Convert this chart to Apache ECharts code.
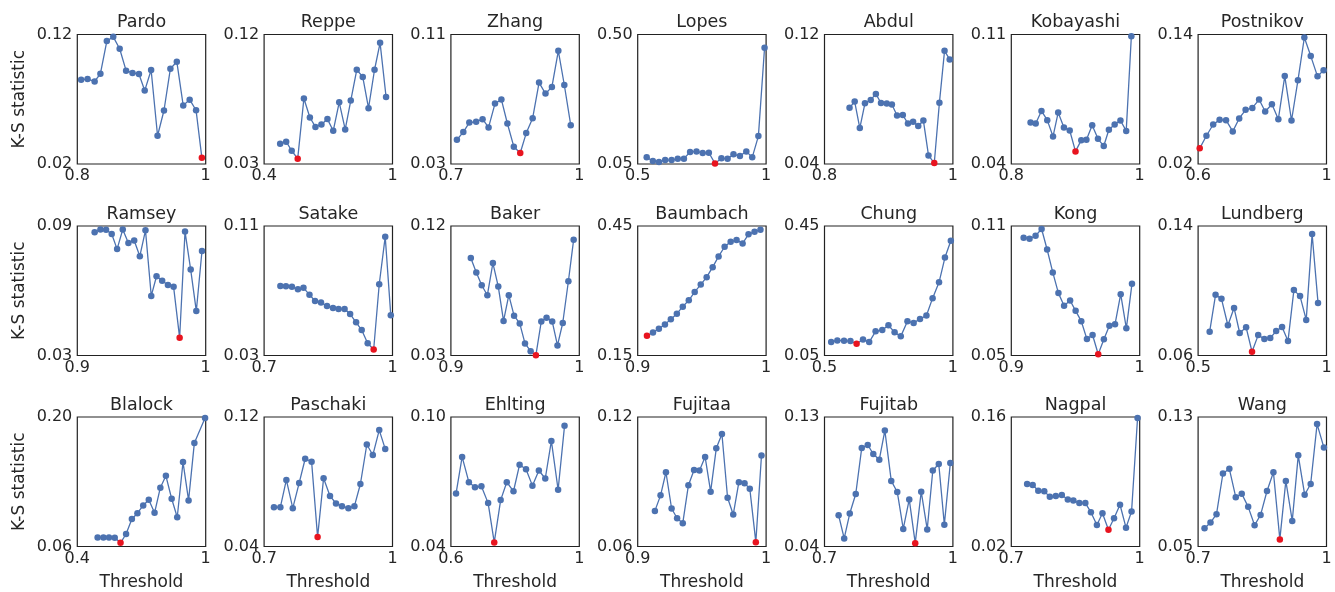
<!DOCTYPE html>
<html>
<head>
<meta charset="utf-8">
<script src="https://cdn.jsdelivr.net/npm/echarts@6/dist/echarts.min.js"></script>
<style>html,body{margin:0;padding:0;background:#fff}#c{width:1335px;height:592px}</style>
</head>
<body>
<div id="c"></div>
<script>
const names = ['Pardo','Reppe','Zhang','Lopes','Abdul','Kobayashi','Postnikov',
  'Ramsey','Satake','Baker','Baumbach','Chung','Kong','Lundberg',
  'Blalock','Paschaki','Ehlting','Fujitaa','Fujitab','Nagpal','Wang'];
const xMins = [0.8,0.4,0.7,0.5,0.8,0.8,0.6, 0.9,0.7,0.9,0.9,0.5,0.9,0.5, 0.4,0.7,0.6,0.9,0.7,0.7,0.7];
const xMaxs = [1,1,1,1,1,1,1, 1,1,1,1,1,1,1, 1,1,1,1,1,1,1];
const yMins = [0.02,0.03,0.03,0.05,0.04,0.04,0.02, 0.03,0.03,0.03,0.15,0.05,0.05,0.06, 0.06,0.04,0.04,0.06,0.04,0.02,0.05];
const yMaxs = [0.12,0.12,0.11,0.50,0.12,0.11,0.14, 0.09,0.11,0.12,0.45,0.45,0.11,0.14, 0.20,0.12,0.10,0.12,0.13,0.16,0.13];

const pardoX = [0.806,0.816,0.827,0.836,0.846,0.856,0.866,0.876,0.886,0.896,0.905,0.915,0.925,0.935,0.945,0.955,0.965,0.975,0.985,0.994];
const pardoY = [0.0851,0.0856,0.0838,0.0897,0.1149,0.1182,0.1090,0.0921,0.0903,0.0895,0.0767,0.0926,0.0418,0.0613,0.0936,0.0990,0.0651,0.0697,0.0615,0.0249];
const reppeX = [0.475,0.503,0.529,0.557,0.586,0.614,0.640,0.668,0.696,0.723,0.751,0.779,0.805,0.833,0.861,0.888,0.916,0.942,0.970];
const reppeY = [0.0441,0.0455,0.0392,0.0337,0.0755,0.0623,0.0558,0.0575,0.0612,0.0531,0.0729,0.0540,0.0741,0.0955,0.0905,0.0688,0.0955,0.1142,0.0766];
const zhangX = [0.714,0.729,0.743,0.759,0.774,0.788,0.803,0.818,0.832,0.847,0.862,0.876,0.891,0.906,0.921,0.936,0.951,0.965,0.980];
const zhangY = [0.0450,0.0497,0.0556,0.0561,0.0577,0.0526,0.0673,0.0698,0.0550,0.0407,0.0368,0.0491,0.0583,0.0803,0.0735,0.0776,0.0999,0.0788,0.0540];
const lopesX = [0.535,0.559,0.583,0.607,0.632,0.656,0.680,0.704,0.729,0.753,0.777,0.801,0.826,0.850,0.873,0.898,0.923,0.946,0.970,0.994];
const lopesY = [0.0731,0.0604,0.0570,0.0638,0.0638,0.0685,0.0685,0.0915,0.0938,0.0881,0.0892,0.0520,0.0696,0.0685,0.0835,0.0777,0.0938,0.0731,0.1469,0.4538];
const abdulX = [0.839,0.847,0.855,0.863,0.872,0.880,0.888,0.897,0.905,0.913,0.922,0.930,0.938,0.946,0.954,0.962,0.971,0.979,0.987,0.995];
const abdulY = [0.0747,0.0786,0.0622,0.0775,0.0796,0.0833,0.0777,0.0773,0.0767,0.0700,0.0702,0.0650,0.0661,0.0634,0.0669,0.0453,0.0406,0.0779,0.1099,0.1046];
const kobayashiX = [0.830,0.838,0.847,0.856,0.865,0.873,0.882,0.891,0.900,0.909,0.917,0.926,0.935,0.944,0.952,0.961,0.970,0.979,0.987];
const kobayashiY = [0.0624,0.0619,0.0687,0.0637,0.0549,0.0678,0.0597,0.0581,0.0468,0.0529,0.0531,0.0610,0.0536,0.0497,0.0585,0.0614,0.0635,0.0579,0.1091];
const postnikovX = [0.605,0.626,0.647,0.667,0.687,0.708,0.728,0.748,0.769,0.790,0.809,0.830,0.850,0.870,0.891,0.911,0.931,0.951,0.972,0.991];
const postnikovY = [0.0345,0.0462,0.0566,0.0609,0.0606,0.0502,0.0622,0.0702,0.0720,0.0797,0.0686,0.0754,0.0615,0.1015,0.0603,0.0975,0.1372,0.1200,0.1012,0.1068];
const ramseyX = [0.9135,0.9180,0.9224,0.9268,0.9310,0.9354,0.9398,0.9443,0.9487,0.9531,0.9576,0.9617,0.9661,0.9706,0.9750,0.9797,0.9839,0.9883,0.9927,0.9971];
const ramseyY = [0.0871,0.0884,0.0883,0.0863,0.0793,0.0884,0.0821,0.0833,0.0760,0.0880,0.0576,0.0667,0.0646,0.0627,0.0618,0.0382,0.0874,0.0698,0.0506,0.0784];
const satakeX = [0.738,0.751,0.765,0.779,0.792,0.806,0.819,0.833,0.847,0.861,0.874,0.888,0.901,0.915,0.928,0.942,0.956,0.969,0.983,0.996];
const satakeY = [0.0730,0.0728,0.0724,0.0709,0.0718,0.0676,0.0637,0.0627,0.0606,0.0594,0.0587,0.0587,0.0556,0.0505,0.0457,0.0376,0.0337,0.0740,0.1034,0.0548];
const bakerX = [0.9155,0.9198,0.9240,0.9284,0.9327,0.9369,0.9410,0.9451,0.9492,0.9536,0.9577,0.9621,0.9662,0.9704,0.9745,0.9789,0.9830,0.9871,0.9915,0.9956];
const bakerY = [0.0977,0.0877,0.0788,0.0719,0.0942,0.0779,0.0540,0.0719,0.0577,0.0523,0.0384,0.0330,0.0302,0.0537,0.0563,0.0537,0.0370,0.0526,0.0816,0.1105];
const baumbachX = [0.9072,0.9119,0.9165,0.9212,0.9258,0.9305,0.9351,0.9398,0.9444,0.9491,0.9537,0.9584,0.9630,0.9677,0.9724,0.9770,0.9817,0.9863,0.9910,0.9956];
const baumbachY = [0.1957,0.2035,0.2120,0.2221,0.2337,0.2469,0.2632,0.2779,0.2973,0.3143,0.3314,0.3547,0.3795,0.4019,0.4136,0.4174,0.4097,0.4306,0.4368,0.4415];
const chungX = [0.526,0.550,0.576,0.601,0.625,0.650,0.674,0.699,0.725,0.749,0.773,0.797,0.823,0.847,0.872,0.897,0.921,0.946,0.969,0.992];
const chungY = [0.0915,0.0966,0.0956,0.0946,0.0863,0.0997,0.0915,0.1246,0.1288,0.1433,0.1215,0.1091,0.1557,0.1505,0.1630,0.1733,0.2272,0.2759,0.3526,0.4044];
const kongX = [0.9096,0.9142,0.9189,0.9236,0.9279,0.9323,0.9367,0.9411,0.9458,0.9501,0.9545,0.9589,0.9633,0.9677,0.9721,0.9764,0.9808,0.9852,0.9896,0.9940];
const kongY = [0.1046,0.1041,0.1055,0.1086,0.0991,0.0885,0.0789,0.0730,0.0755,0.0707,0.0659,0.0576,0.0595,0.0506,0.0575,0.0638,0.0645,0.0784,0.0626,0.0833];
const lundbergX = [0.545,0.568,0.591,0.616,0.640,0.662,0.687,0.710,0.734,0.758,0.781,0.804,0.827,0.850,0.873,0.897,0.921,0.944,0.967];
const lundbergY = [0.0747,0.0975,0.0950,0.0787,0.0894,0.0739,0.0774,0.0623,0.0726,0.0702,0.0708,0.0751,0.0776,0.0689,0.1004,0.0967,0.0820,0.1350,0.0925];
const blalockX = [0.495,0.522,0.548,0.575,0.602,0.628,0.655,0.681,0.708,0.734,0.761,0.788,0.814,0.841,0.867,0.894,0.920,0.947,0.997];
const blalockY = [0.0698,0.0698,0.0698,0.0695,0.0640,0.0735,0.0898,0.0960,0.1044,0.1105,0.0964,0.1236,0.1364,0.1116,0.0916,0.1513,0.1098,0.1720,0.1989];
const paschakiX = [0.723,0.738,0.752,0.767,0.782,0.796,0.811,0.825,0.839,0.854,0.868,0.882,0.897,0.911,0.925,0.940,0.954,0.969,0.983];
const paschakiY = [0.0643,0.0643,0.0811,0.0637,0.0793,0.0942,0.0924,0.0458,0.0822,0.0712,0.0666,0.0649,0.0637,0.0649,0.0786,0.1030,0.0965,0.1119,0.1003];
const ehltingX = [0.616,0.635,0.656,0.675,0.695,0.716,0.735,0.755,0.774,0.795,0.814,0.834,0.854,0.874,0.894,0.913,0.934,0.954];
const ehltingY = [0.0645,0.0815,0.0698,0.0674,0.0679,0.0601,0.0419,0.0615,0.0698,0.0656,0.0779,0.0758,0.0682,0.0752,0.0715,0.0889,0.0663,0.0959];
const fujitaaX = [0.9134,0.9178,0.9220,0.9264,0.9307,0.9351,0.9395,0.9439,0.9481,0.9525,0.9568,0.9612,0.9656,0.9700,0.9744,0.9788,0.9832,0.9873,0.9920,0.9964];
const fujitaaY = [0.0765,0.0837,0.0944,0.0776,0.0731,0.0708,0.0884,0.0954,0.0952,0.1015,0.0854,0.1055,0.1121,0.0826,0.0748,0.0898,0.0893,0.0868,0.0620,0.1022];
const fujitabX = [0.733,0.746,0.759,0.773,0.787,0.801,0.814,0.828,0.841,0.856,0.870,0.884,0.898,0.912,0.926,0.940,0.953,0.967,0.980,0.994];
const fujitabY = [0.0617,0.0456,0.0629,0.0765,0.1085,0.1106,0.1043,0.1003,0.1206,0.0856,0.0779,0.0522,0.0727,0.0423,0.0781,0.0519,0.0928,0.0973,0.0552,0.0980];
const nagpalX = [0.737,0.750,0.763,0.777,0.790,0.804,0.818,0.832,0.845,0.859,0.873,0.886,0.900,0.913,0.927,0.940,0.954,0.968,0.981,0.995];
const nagpalY = [0.0876,0.0865,0.0804,0.0796,0.0738,0.0745,0.0756,0.0709,0.0698,0.0669,0.0669,0.0571,0.0433,0.0560,0.0382,0.0505,0.0651,0.0404,0.0578,0.1589];
const wangX = [0.715,0.729,0.743,0.758,0.773,0.788,0.802,0.817,0.832,0.846,0.861,0.876,0.891,0.905,0.920,0.934,0.949,0.963,0.978,0.994];
const wangY = [0.0612,0.0648,0.0700,0.0951,0.0980,0.0805,0.0826,0.0745,0.0631,0.0695,0.0843,0.0959,0.0544,0.0905,0.0658,0.1063,0.0820,0.0886,0.1256,0.1111];

const xs = [pardoX,reppeX,zhangX,lopesX,abdulX,kobayashiX,postnikovX,ramseyX,satakeX,bakerX,baumbachX,chungX,kongX,lundbergX,blalockX,paschakiX,ehltingX,fujitaaX,fujitabX,nagpalX,wangX];
const ys = [pardoY,reppeY,zhangY,lopesY,abdulY,kobayashiY,postnikovY,ramseyY,satakeY,bakerY,baumbachY,chungY,kongY,lundbergY,blalockY,paschakiY,ehltingY,fujitaaY,fujitabY,nagpalY,wangY];

const FONT = 'DejaVu Sans';
const TXT = '#262626';
const BLUE = '#4c72b0';
const RED = '#e8141f';
const colLeft = 77.3, colStep = 186.8, boxW = 128.4, boxH = 129.5;
const rowTops = [34.5, 226, 417];

const grids = [], xAxes = [], yAxes = [], series = [], graphics = [];
for (let i = 0; i < names.length; i++) {
  const r = Math.floor(i / 7), c = i % 7;
  const left = colLeft + c * colStep, top = rowTops[r];
  grids.push({left: left, top: top, width: boxW, height: boxH, show: true,
    borderColor: '#222', borderWidth: 1.2, backgroundColor: 'transparent',
    containLabel: false, outerBoundsMode: 'none'});
  xAxes.push({type: 'value', gridIndex: i, min: xMins[i], max: xMaxs[i],
    axisLine: {show: false}, axisTick: {show: false}, splitLine: {show: false},
    axisLabel: {customValues: [xMins[i], xMaxs[i]], fontFamily: FONT, fontSize: 16, color: TXT, margin: 4,
      formatter: v => (v >= 1 ? '1' : v.toFixed(1))},
    name: r === 2 ? 'Threshold' : '', nameLocation: 'middle', nameGap: 28,
    nameTextStyle: {fontFamily: FONT, fontSize: 17, color: TXT}});
  yAxes.push({type: 'value', gridIndex: i, min: yMins[i], max: yMaxs[i],
    axisLine: {show: false}, axisTick: {show: false}, splitLine: {show: false},
    axisLabel: {customValues: [yMins[i], yMaxs[i]], fontFamily: FONT, fontSize: 16, color: TXT, margin: 5,
      formatter: v => v.toFixed(2)},
    name: c === 0 ? 'K-S statistic' : '', nameLocation: 'middle', nameGap: 49, nameRotate: 90,
    nameTextStyle: {fontFamily: FONT, fontSize: 17, color: TXT}});
  const yv = ys[i];
  let mi = 0;
  for (let k = 1; k < yv.length; k++) if (yv[k] < yv[mi]) mi = k;
  const data = yv.map((v, k) => k === mi
    ? {value: [xs[i][k], v], itemStyle: {color: RED}}
    : [xs[i][k], v]);
  series.push({type: 'line', xAxisIndex: i, yAxisIndex: i, data: data,
    symbol: 'circle', symbolSize: 6.5, showSymbol: true, clip: false,
    lineStyle: {color: BLUE, width: 1.3}, itemStyle: {color: BLUE},
    animation: false, silent: true, z: 3});
  graphics.push({type: 'text', x: left + boxW / 2, y: top - 12,
    style: {text: names[i], textAlign: 'center', textVerticalAlign: 'middle',
      font: '17.5px "' + FONT + '"', fill: TXT}});
}

const chart = echarts.init(document.getElementById('c'), null, {renderer: 'canvas'});
chart.setOption({
  animation: false,
  backgroundColor: '#fff',
  grid: grids, xAxis: xAxes, yAxis: yAxes, series: series,
  graphic: graphics
});
</script>
</body>
</html>
